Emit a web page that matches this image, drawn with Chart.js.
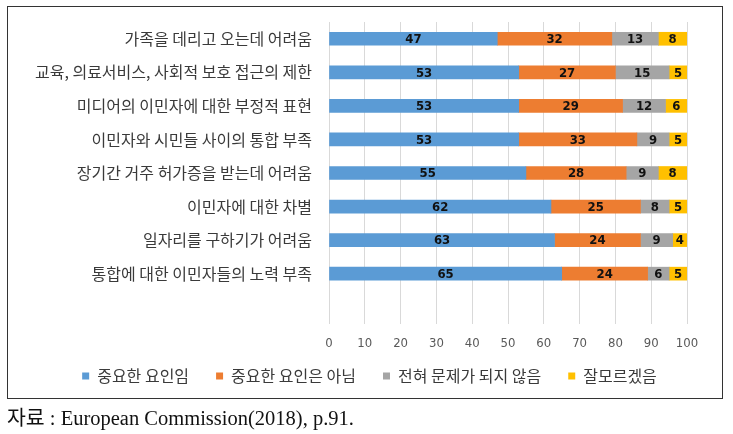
<!DOCTYPE html>
<html>
<head>
<meta charset="utf-8">
<script src="https://cdn.jsdelivr.net/npm/chart.js@4.4.1/dist/chart.umd.min.js"></script>
<style>
  html, body { margin: 0; padding: 0; background: #fff; }
  body { width: 733px; height: 434px; position: relative; overflow: hidden; }
  #frame { position: absolute; left: 7px; top: 6px; width: 716px; height: 393px; border: 1px solid #333; box-sizing: border-box; }
  #wrap { position: absolute; left: 8px; top: 7px; width: 714px; height: 410px; }
  #source { position: absolute; left: 7px; top: 405px; font-family: 'Liberation Serif', 'Noto Sans CJK KR', serif; font-size: 20.5px; color: #111; white-space: nowrap; line-height: 26px; }
</style>
</head>
<body>
<div id="frame"></div>
<div id="wrap"><canvas id="chart" width="714" height="410"></canvas></div>
<div id="source">자료 : European Commission(2018), p.91.</div>
<script>
// categories top -> bottom (last one is the empty row Excel leaves at the bottom)
const categories = [
  '가족을 데리고 오는데 어려움',
  '교육, 의료서비스, 사회적 보호 접근의 제한',
  '미디어의 이민자에 대한 부정적 표현',
  '이민자와 시민들 사이의 통합 부족',
  '장기간 거주 허가증을 받는데 어려움',
  '이민자에 대한 차별',
  '일자리를 구하기가 어려움',
  '통합에 대한 이민자들의 노력 부족',
  ''
];
const seriesNames = ['중요한 요인임', '중요한 요인은 아님', '전혀 문제가 되지 않음', '잘모르겠음'];
const important    = [47, 53, 53, 53, 55, 62, 63, 65, null];
const notImportant = [32, 27, 29, 33, 28, 25, 24, 24, null];
const noProblem    = [13, 15, 12, 9, 9, 8, 9, 6, null];
const dontKnow     = [8, 5, 6, 5, 8, 5, 4, 5, null];
const xTicks = [0, 10, 20, 30, 40, 50, 60, 70, 80, 90, 100];

const colors = ['#5B9BD5', '#ED7D31', '#A5A5A5', '#FFC000'];
const seriesData = [important, notImportant, noProblem, dontKnow];

const korFont = "'Noto Sans CJK KR', 'Noto Sans', sans-serif";
const narrowFont = "'Liberation Sans Narrow', 'DejaVu Sans Condensed', 'Liberation Sans', sans-serif";

/* value labels in the middle of each segment */
const barValues = {
  id: 'barValues',
  afterDatasetsDraw(chart) {
    const ctx = chart.ctx;
    ctx.save();
    ctx.font = 'bold 13px ' + narrowFont;
    ctx.fillStyle = '#111';
    ctx.textAlign = 'center';
    ctx.textBaseline = 'middle';
    chart.data.datasets.forEach((ds, i) => {
      chart.getDatasetMeta(i).data.forEach((el, j) => {
        const v = ds.data[j];
        if (v == null) return;
        const p = el.getProps(['x', 'y', 'base'], true);
        ctx.fillText(String(v), (p.x + p.base) / 2, p.y + 1);
      });
    });
    ctx.restore();
  }
};

/* fixed legend box height, then move it up / right a bit like the original */
const legendFix = {
  id: 'legendFix',
  beforeInit(chart) {
    const lg = chart.legend;
    if (!lg) return;
    const fit = lg.fit;
    lg.fit = function () { fit.call(this); this.height = 61; };
  },
  afterLayout(chart) {
    const lg = chart.legend;
    if (!lg) return;
    lg.top -= 15; lg.bottom -= 15;
    lg.left += 22; lg.right += 22;
  }
};

new Chart(document.getElementById('chart'), {
  type: 'bar',
  data: {
    labels: categories,
    datasets: seriesData.map((d, i) => ({
      label: seriesNames[i],
      data: d,
      backgroundColor: colors[i],
      borderWidth: 0,
      barThickness: 13
    }))
  },
  options: {
    indexAxis: 'y',
    responsive: false,
    animation: false,
    layout: { padding: { top: 15, right: 35, left: 0, bottom: 0 } },
    scales: {
      x: {
        stacked: true,
        min: 0,
        max: 100,
        afterBuildTicks(scale) { scale.ticks = xTicks.map(v => ({ value: v })); },
        afterFit(scale) { scale.height = 32; },
        grid: { color: '#d9d9d9', drawTicks: false },
        border: { display: false },
        ticks: { padding: 12, color: '#595959', font: { family: narrowFont, size: 13 } }
      },
      y: {
        stacked: true,
        grid: { display: false, drawTicks: false },
        border: { display: false },
        afterFit(scale) {
          scale.width = 321;
          scale.paddingTop = 0;
          scale.paddingBottom = 0;
        },
        ticks: { padding: 17, color: '#3a3a3a', font: { family: korFont, size: 16 } }
      }
    },
    plugins: {
      legend: {
        position: 'bottom',
        labels: {
          boxWidth: 7,
          boxHeight: 7,
          padding: 27,
          color: '#3a3a3a',
          font: { family: korFont, size: 16 }
        }
      },
      tooltip: { enabled: false }
    }
  },
  plugins: [barValues, legendFix]
});
</script>
</body>
</html>
